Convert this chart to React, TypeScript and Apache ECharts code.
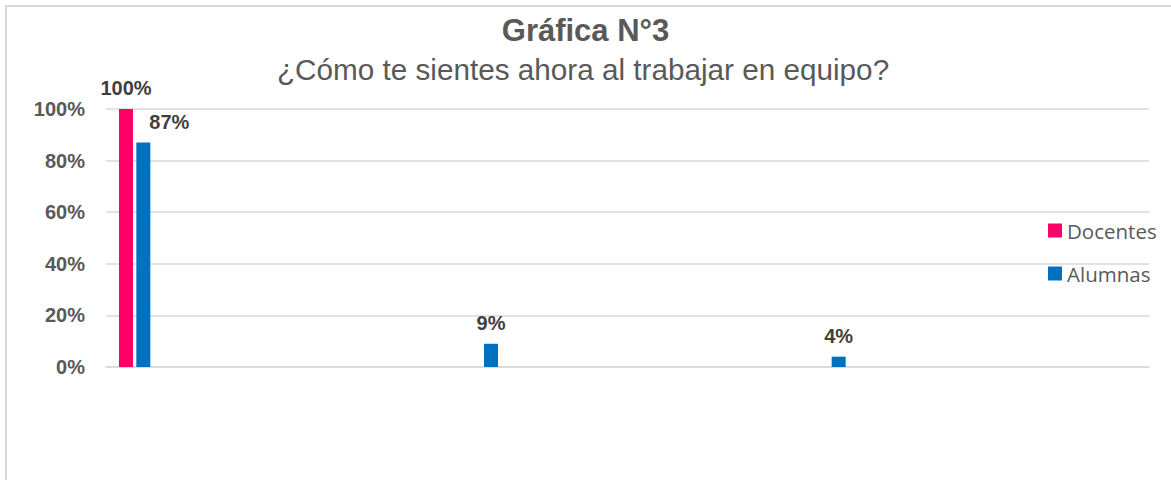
import React, { useEffect, useRef } from "react";
import * as echarts from "echarts";

const categories = ["Opción 1", "Opción 2", "Opción 3"];
const docentes: (number | null)[] = [100, null, null];
const alumnas: number[] = [87, 9, 4];
const yTicks = [0, 20, 40, 60, 80, 100];
const titleText = "Gráfica N°3";
const subtitleText = "¿Cómo te sientes ahora al trabajar en equipo?";

export default function App() {
  const ref = useRef<HTMLDivElement>(null);
  useEffect(() => {
    if (!ref.current) return;
    const chart = echarts.init(ref.current, null, { renderer: "svg" });
    const labelStyle = {
      show: true,
      position: "top" as const,
      distance: 11,
      fontFamily: "Liberation Sans, Arial, sans-serif",
      fontSize: 20,
      fontWeight: "bold" as const,
      color: "#404040",
      formatter: (p: any) => `${Math.round(p.value)}%`,
    };
    chart.setOption({
      animation: false,
      backgroundColor: "#ffffff",
      title: [
        {
          text: titleText,
          left: "center",
          top: 10,
          textStyle: {
            fontFamily: "Liberation Sans, Arial, sans-serif",
            fontSize: 31,
            fontWeight: "bold",
            color: "#595959",
          },
        },
        {
          text: subtitleText,
          left: 578,
          top: 49,
          textAlign: "center",
          textStyle: {
            fontFamily: "Liberation Sans, Arial, sans-serif",
            fontSize: 29.7,
            fontWeight: "normal",
            color: "#595959",
          },
        },
      ],
      graphic: [
        {
          type: "rect",
          shape: { x: 6, y: 6, width: 1300, height: 700 },
          style: { fill: "none", stroke: "#d9d9d9", lineWidth: 2 },
          silent: true,
        },
      ],
      legend: {
        orient: "vertical",
        left: 1043,
        top: 215,
        itemWidth: 14,
        itemHeight: 14,
        itemGap: 22,
        icon: "rect",
        data: ["Docentes", "Alumnas"],
        textStyle: {
          fontFamily: "Open Sans, sans-serif",
          fontSize: 20.5,
          lineHeight: 20,
          color: "#595959",
        },
      },
      grid: { left: 106, right: 22, top: 109, bottom: 113, containLabel: false },
      xAxis: {
        type: "category",
        data: categories,
        axisLine: { show: true, lineStyle: { color: "#d9d9d9", width: 1.5 } },
        axisTick: { show: false },
        axisLabel: { show: false },
      },
      yAxis: {
        type: "value",
        min: yTicks[0],
        max: yTicks[yTicks.length - 1],
        interval: 20,
        axisLine: { show: false },
        axisTick: { show: false },
        splitLine: { show: true, lineStyle: { color: "#d9d9d9", width: 1.5 } },
        axisLabel: {
          formatter: "{value}%",
          margin: 21,
          fontFamily: "Liberation Sans, Arial, sans-serif",
          fontSize: 20,
          fontWeight: "bold",
          color: "#595959",
        },
      },
      series: [
        {
          name: "Docentes",
          type: "bar",
          barWidth: 14,
          barGap: "24%",
          itemStyle: { color: "#FF0066" },
          label: labelStyle,
          data: docentes,
        },
        {
          name: "Alumnas",
          type: "bar",
          barWidth: 14,
          barGap: "24%",
          itemStyle: { color: "#0070C0" },
          label: labelStyle,
          data: alumnas.map((v, i) =>
            i === 0 ? { value: v, label: { offset: [26, 0] } } : v
          ),
        },
        {
          name: "_spacer",
          type: "bar",
          barWidth: 287,
          barGap: "24%",
          silent: true,
          itemStyle: { color: "transparent" },
          data: [],
        },
      ],
    });
    return () => chart.dispose();
  }, []);
  return (
    <div
      ref={ref}
      style={{ position: "absolute", left: 0, top: 0, width: 1171, height: 480 }}
    />
  );
}
